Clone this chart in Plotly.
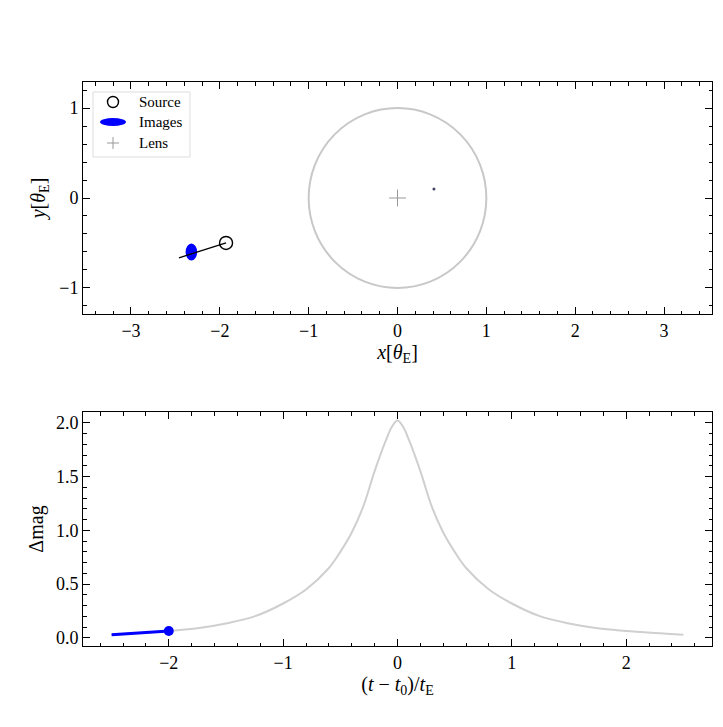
import plotly.graph_objects as go

# ---------------- data ----------------
# light curve (bottom panel)
tau = [-2.5, -2.25, -2.0, -1.75, -1.5, -1.25, -1.0, -0.8, -0.6, -0.5, -0.4, -0.3,
       -0.2, -0.1, -0.05, 0.0, 0.05, 0.1, 0.2, 0.3, 0.4, 0.5, 0.6, 0.8, 1.0,
       1.25, 1.5, 1.75, 2.0, 2.25, 2.5]
dmag = [0.03, 0.045, 0.065, 0.09, 0.135, 0.20, 0.32, 0.45, 0.65, 0.80, 0.98, 1.22,
        1.55, 1.84, 1.96, 2.02, 1.96, 1.84, 1.55, 1.22, 0.98, 0.80, 0.65, 0.45, 0.32,
        0.20, 0.135, 0.09, 0.065, 0.045, 0.03]
current_index = 2          # tau = -2.0

# lens plane (top panel)
lens_x, lens_y = [0.0], [0.0]
einstein_radius = 1.0
source_x, source_y = [-1.93], [-0.50]
traj_x = [-2.46, -1.93]
traj_y = [-0.665, -0.50]
major_image = dict(x=-2.32, y=-0.60, ax=0.065, ay=0.095)
minor_image_x, minor_image_y = [0.41], [0.10]

x_ticks_top = [-3, -2, -1, 0, 1, 2, 3]
y_ticks_top = [-1, 0, 1]
x_ticks_bot = [-2, -1, 0, 1, 2]
y_ticks_bot = [0.0, 0.5, 1.0, 1.5, 2.0]

# ---------------- figure ----------------
FONT = "Liberation Serif"
OFF = 8                      # page body margin of the browser
W, H = 723 - OFF, 727 - OFF
ML, MR, MT, MB = 83 - OFF, 11, 82 - OFF, 81
pw = W - ML - MR
ph = H - MT - MB

fig = go.Figure()

# top panel traces
fig.add_trace(go.Scatter(x=traj_x, y=traj_y, mode="lines",
                         line=dict(color="black", width=1.3),
                         xaxis="x", yaxis="y", showlegend=False))
fig.add_trace(go.Scatter(x=source_x, y=source_y, mode="markers",
                         marker=dict(symbol="circle-open", size=13,
                                     line=dict(color="black", width=1.4), color="black"),
                         xaxis="x", yaxis="y", showlegend=False))
fig.add_trace(go.Scatter(x=lens_x, y=lens_y, mode="markers",
                         marker=dict(symbol="cross-thin", size=12,
                                     line=dict(color="#999999", width=1)),
                         xaxis="x", yaxis="y", showlegend=False))
fig.add_trace(go.Scatter(x=minor_image_x, y=minor_image_y, mode="markers",
                         marker=dict(symbol="circle", size=3, color="#444466"),
                         xaxis="x", yaxis="y", showlegend=False))

# bottom panel traces
fig.add_trace(go.Scatter(x=tau, y=dmag, mode="lines", line_shape="spline",
                         line=dict(color="#cfcfcf", width=2),
                         xaxis="x2", yaxis="y2", showlegend=False))
fig.add_trace(go.Scatter(x=tau[:current_index + 1], y=dmag[:current_index + 1],
                         mode="lines", line=dict(color="#0000ff", width=3),
                         xaxis="x2", yaxis="y2", showlegend=False))
fig.add_trace(go.Scatter(x=[tau[current_index]], y=[dmag[current_index]],
                         mode="markers", marker=dict(color="#0000ff", size=10),
                         xaxis="x2", yaxis="y2", showlegend=False))

shapes = []
# Einstein ring
shapes.append(dict(type="circle", xref="x", yref="y",
                   x0=lens_x[0] - einstein_radius, x1=lens_x[0] + einstein_radius,
                   y0=lens_y[0] - einstein_radius, y1=lens_y[0] + einstein_radius,
                   line=dict(color="#c8c8c8", width=2), layer="below"))
# major image ellipse
shapes.append(dict(type="circle", xref="x", yref="y",
                   x0=major_image["x"] - major_image["ax"], x1=major_image["x"] + major_image["ax"],
                   y0=major_image["y"] - major_image["ay"], y1=major_image["y"] + major_image["ay"],
                   fillcolor="#0000ff", line=dict(color="#0000ff", width=0), layer="below"))

# manual legend (top panel); pixel positions measured on the page
top_px = dict(l=83, r=712, t=82, b=314)
def dx(px):
    return (px - top_px["l"]) / (top_px["r"] - top_px["l"])
def dy(py):
    return (top_px["b"] - py) / (top_px["b"] - top_px["t"])
shapes.append(dict(type="rect", xref="x domain", yref="y domain",
                   x0=dx(93), x1=dx(190), y0=dy(157), y1=dy(92),
                   fillcolor="rgba(255,255,255,0.85)", line=dict(color="#dddddd", width=1)))
sym_x = dx(113)
rows = [dy(102), dy(122), dy(143)]
shapes.append(dict(type="circle", xref="x domain", yref="y domain",
                   xsizemode="pixel", ysizemode="pixel", xanchor=sym_x, yanchor=rows[0],
                   x0=-5.5, x1=5.5, y0=-5.5, y1=5.5,
                   line=dict(color="black", width=1.4)))
shapes.append(dict(type="circle", xref="x domain", yref="y domain",
                   xsizemode="pixel", ysizemode="pixel", xanchor=sym_x, yanchor=rows[1],
                   x0=-13, x1=13, y0=-4, y1=4,
                   fillcolor="#0000ff", line=dict(color="#0000ff", width=0)))
shapes.append(dict(type="path", xref="x domain", yref="y domain",
                   xsizemode="pixel", ysizemode="pixel", xanchor=sym_x, yanchor=rows[2],
                   path="M-6,0 L6,0 M0,-6 L0,6",
                   line=dict(color="#999999", width=1)))

annotations = []
for label, ry in zip(["Source", "Images", "Lens"], rows):
    annotations.append(dict(text=label, xref="x domain", yref="y domain",
                            x=dx(137), y=ry, xanchor="left", yanchor="middle",
                            showarrow=False, font=dict(family=FONT, size=15, color="black")))

TICKFONT = dict(family=FONT, size=18, color="black")
TITLEFONT = dict(family=FONT, size=20, color="black")
axis_common = dict(showline=True, linecolor="black", linewidth=1, mirror="allticks",
                   ticks="inside", ticklen=7, tickwidth=1, tickcolor="black",
                   showgrid=False, zeroline=False, tickfont=TICKFONT)

fig.update_layout(
    width=W, height=H,
    margin=dict(l=ML, r=MR, t=MT, b=MB),
    paper_bgcolor="white", plot_bgcolor="rgba(0,0,0,0)",
    font=dict(family=FONT, size=18, color="black"),
    shapes=shapes, annotations=annotations,
    xaxis=dict(domain=[0, 1], anchor="y", range=[-3.54, 3.54],
               tickvals=x_ticks_top,
               minor=dict(dtick=0.2, ticklen=3.5, ticks="inside", tickcolor="black"),
               title=dict(text="<i>x</i>[<i>θ</i><sub>E</sub>]", standoff=2, font=TITLEFONT),
               **axis_common),
    yaxis=dict(domain=[(H - MB - (314 - OFF)) / ph, 1], anchor="x", range=[-1.29, 1.29],
               tickvals=y_ticks_top,
               minor=dict(dtick=0.2, ticklen=3.5, ticks="inside", tickcolor="black"),
               title=dict(text="<i>y</i>[<i>θ</i><sub>E</sub>]", standoff=8, font=TITLEFONT),
               **axis_common),
    xaxis2=dict(domain=[0, 1], anchor="y2", range=[-2.75, 2.75],
                tickvals=x_ticks_bot,
                minor=dict(dtick=0.2, ticklen=3.5, ticks="inside", tickcolor="black"),
                title=dict(text="(<i>t</i> − <i>t</i><sub>0</sub>)/<i>t</i><sub>E</sub>",
                           standoff=2, font=TITLEFONT),
                **axis_common),
    yaxis2=dict(domain=[0, (H - MB - (412 - OFF)) / ph], anchor="x2", range=[-0.075, 2.10],
                tickvals=y_ticks_bot, tickformat=".1f",
                minor=dict(dtick=0.1, ticklen=3.5, ticks="inside", tickcolor="black"),
                title=dict(text="Δmag", standoff=6, font=TITLEFONT),
                **axis_common),
)

fig.write_html("out.html")
